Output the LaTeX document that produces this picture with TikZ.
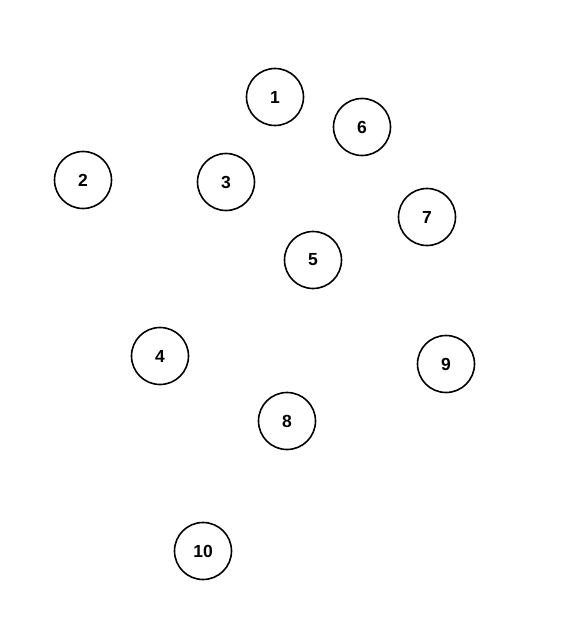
\documentclass[tikz,border=0pt]{standalone}
\usepackage{fontspec}
\setmainfont{Liberation Sans}
\usepackage{tikz}

\tikzset{
  vertex/.style={circle, draw, line width=1.6pt, minimum size=57pt, inner sep=0pt,
                 font=\fontsize{17.5}{19}\selectfont\bfseries}
}

\begin{document}
\begin{tikzpicture}[x=1pt,y=-1pt]

  \useasboundingbox (0,0) rectangle (588,639);

% Nodes
  \node[vertex] (v1)  at (275,97)  {1};
  \node[vertex] (v2)  at (83,180)  {2};
  \node[vertex] (v3)  at (226,182) {3};
  \node[vertex] (v4)  at (160,356) {4};
  \node[vertex] (v5)  at (313,260) {5};
  \node[vertex] (v6)  at (362,127) {6};
  \node[vertex] (v7)  at (427,217) {7};
  \node[vertex] (v8)  at (287,421) {8};
  \node[vertex] (v9)  at (446,364) {9};
  \node[vertex] (v10) at (203,551) {10};

\end{tikzpicture}
\end{document}
